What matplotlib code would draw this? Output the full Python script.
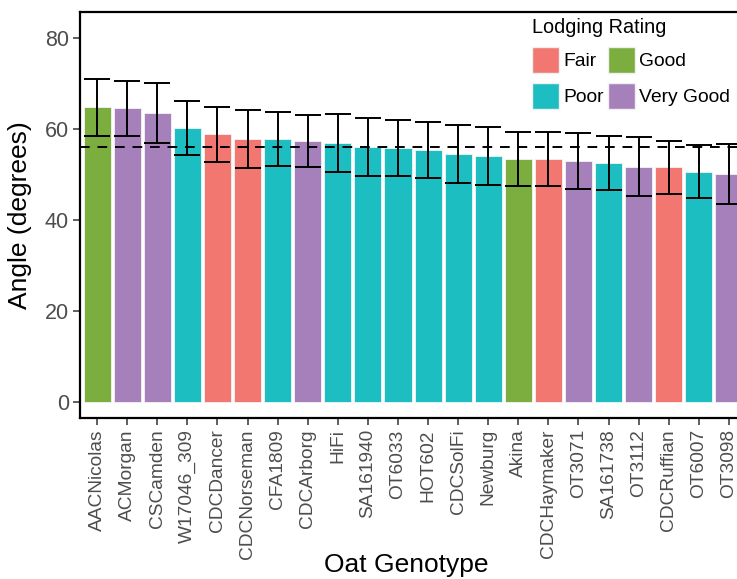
import matplotlib
matplotlib.use("Agg")
import matplotlib.pyplot as plt
from matplotlib.patches import Patch

plt.rcParams['font.family'] = ['Liberation Sans', 'DejaVu Sans']

# Mean lodging angle per genotype, with error (+/-) and lodging class
genotypes = ['AACNicolas', 'ACMorgan', 'CSCamden', 'W17046_309', 'CDCDancer',
             'CDCNorseman', 'CFA1809', 'CDCArborg', 'HiFi', 'SA161940', 'OT6033',
             'HOT602', 'CDCSolFi', 'Newburg', 'Akina', 'CDCHaymaker', 'OT3071',
             'SA161738', 'OT3112', 'CDCRuffian', 'OT6007', 'OT3098']
angles = [64.8, 64.6, 63.6, 60.3, 58.9, 57.9, 57.8, 57.5, 57.0, 56.1, 55.9,
          55.5, 54.6, 54.1, 53.5, 53.4, 53.0, 52.6, 51.8, 51.6, 50.7, 50.2]
errors = [6.2, 6.1, 6.6, 6.0, 6.0, 6.4, 5.9, 5.7, 6.4, 6.3, 6.2,
          6.2, 6.4, 6.3, 5.9, 6.0, 6.2, 5.9, 6.5, 5.9, 5.8, 6.6]
ratings = ['Good', 'Very Good', 'Very Good', 'Poor', 'Fair', 'Fair', 'Poor',
           'Very Good', 'Poor', 'Poor', 'Poor', 'Poor', 'Poor', 'Poor', 'Good',
           'Fair', 'Very Good', 'Poor', 'Very Good', 'Fair', 'Poor', 'Very Good']
overall_mean = 56.2

rating_colors = {'Fair': '#F37771', 'Good': '#7CAE3F',
                 'Poor': '#1CBEC2', 'Very Good': '#A680BA'}

fig = plt.figure(figsize=(7.37, 5.79), dpi=100)
ax = fig.add_axes([0.1085, 0.278, 0.905, 0.701])

x = list(range(len(genotypes)))
ax.bar(x, angles, width=0.9, color=[rating_colors[r] for r in ratings],
       edgecolor='#f4f4f4', linewidth=0.6, zorder=2)
ax.axhline(overall_mean, color='black', linewidth=1.4, dashes=(5, 4), zorder=3)
ax.errorbar(x, angles, yerr=errors, fmt='none', ecolor='black',
            elinewidth=1.4, capsize=9.7, capthick=1.4, zorder=4)

ax.set_xlim(-0.57, len(genotypes) - 0.4)
ax.set_ylim(-3.6, 85.8)
ax.set_yticks([0, 20, 40, 60, 80])
ax.set_xticks(x)
ax.set_xticklabels(genotypes, rotation=90, fontsize=13.8, color='#4d4d4d')
ax.tick_params(axis='y', labelsize=15.5, labelcolor='#4d4d4d')
ax.tick_params(direction='out', length=5, width=1.1, color='#333333', pad=3)

for side in ['left', 'bottom', 'top', 'right']:
    ax.spines[side].set_linewidth(1.6)

ax.set_ylabel('Angle (degrees)', fontsize=19)
ax.set_xlabel('Oat Genotype', fontsize=19)
ax.yaxis.set_label_coords(-0.072, 0.5)
ax.xaxis.set_label_coords(0.489, -0.332)

handles = [Patch(facecolor=rating_colors[k], edgecolor='#f0f0f0', label=k)
           for k in ['Fair', 'Poor', 'Good', 'Very Good']]
fig.legend(handles=handles, title='Lodging Rating', ncol=2, frameon=False,
           loc='upper left', bbox_to_anchor=(532 / 737, 1 - 18 / 579),
           fontsize=13.9, title_fontsize=14.3, alignment='left',
           borderpad=0, borderaxespad=0,
           handlelength=1.40, handleheight=1.70, handletextpad=0.2,
           columnspacing=0.25, labelspacing=0.52)

fig.savefig('out.png', dpi=100)
